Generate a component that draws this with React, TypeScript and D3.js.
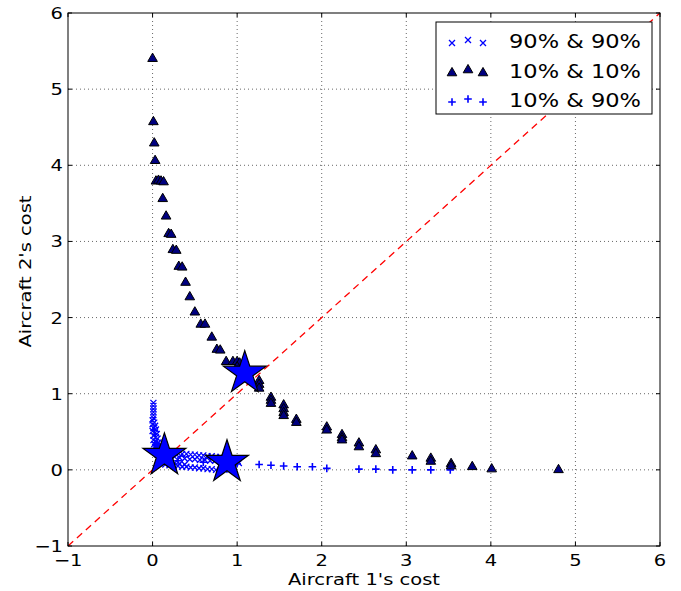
import React from "react";
import * as d3 from "d3";

// 90% & 90% (x markers)
const highHigh: [number, number][] = [
  // upright branch near x = 0
  [0.01, 0.88], [0.01, 0.84], [0.01, 0.8], [0.01, 0.76], [0.01, 0.72], [0.01, 0.68],
  [0.0, 0.65], [0.02, 0.62], [0.0, 0.6], [0.03, 0.58], [0.01, 0.55], [0.04, 0.53],
  [0.0, 0.51], [0.03, 0.49], [0.05, 0.47], [0.01, 0.45], [0.04, 0.43], [0.06, 0.41],
  [0.01, 0.39], [0.04, 0.37], [0.07, 0.36], [0.02, 0.34], [0.05, 0.33], [0.08, 0.32],
  [0.03, 0.3], [0.06, 0.29], [0.1, 0.28], [0.05, 0.26], [0.09, 0.26], [0.13, 0.25],
  // upper row of the knee
  [0.17, 0.24], [0.21, 0.23], [0.25, 0.22], [0.3, 0.22], [0.35, 0.21], [0.4, 0.21],
  [0.45, 0.2], [0.5, 0.2], [0.55, 0.19], [0.6, 0.19], [0.65, 0.18], [0.7, 0.18],
  [0.75, 0.17], [0.8, 0.17], [0.85, 0.16], [0.9, 0.16], [0.95, 0.15], [1.0, 0.14],
  [0.2, 0.19], [0.26, 0.17], [0.32, 0.16], [0.38, 0.15], [0.44, 0.14], [0.5, 0.14],
  [0.56, 0.13], [0.62, 0.13], [0.68, 0.12], [0.74, 0.12], [0.8, 0.11], [0.86, 0.11],
  [0.92, 0.1], [0.98, 0.1], [1.02, 0.09],
  // lower row
  [0.06, 0.2], [0.08, 0.15], [0.11, 0.1], [0.15, 0.07], [0.2, 0.06], [0.25, 0.05],
  [0.3, 0.05], [0.35, 0.04], [0.4, 0.04], [0.45, 0.03], [0.5, 0.03], [0.55, 0.02],
  [0.6, 0.02], [0.65, 0.01], [0.7, 0.01], [0.75, 0.0], [0.8, 0.0], [0.85, 0.0],
  [0.14, 0.12], [0.2, 0.1], [0.26, 0.09], [0.32, 0.08], [0.38, 0.07], [0.9, 0.02],
];

// 10% & 10% (triangles)
const lowLow: [number, number][] = [
  [0.0, 5.4], [0.01, 4.57], [0.02, 4.29], [0.03, 4.06], [0.04, 3.79], [0.07, 3.8],
  [0.1, 3.79], [0.13, 3.78], [0.12, 3.56], [0.16, 3.33], [0.19, 3.1], [0.22, 3.09],
  [0.24, 2.89], [0.28, 2.88], [0.31, 2.67], [0.35, 2.66], [0.39, 2.46], [0.44, 2.27],
  [0.5, 2.07], [0.57, 1.91], [0.62, 1.91], [0.7, 1.74], [0.76, 1.58], [0.8, 1.57],
  [0.87, 1.42], [0.95, 1.42], [1.0, 1.42], [1.03, 1.4], [1.0, 1.35], [1.05, 1.32],
  [1.26, 1.17], [1.26, 1.12], [1.26, 1.07], [1.4, 0.95], [1.4, 0.91], [1.4, 0.87],
  [1.55, 0.85], [1.55, 0.8], [1.55, 0.75], [1.55, 0.71], [1.7, 0.66], [1.7, 0.62],
  [2.06, 0.56], [2.06, 0.52], [2.24, 0.46], [2.24, 0.42], [2.24, 0.39], [2.44, 0.35],
  [2.44, 0.3], [2.64, 0.26], [2.64, 0.21], [3.07, 0.18], [3.29, 0.15], [3.29, 0.11],
  [3.53, 0.08], [3.53, 0.05], [3.78, 0.04], [4.01, 0.01], [4.8, 0.0],
];

// 10% & 90% (plus markers)
const lowHigh: [number, number][] = [
  [0.02, 0.28], [0.06, 0.2], [0.15, 0.15], [0.3, 0.12], [0.6, 0.1], [0.92, 0.09],
  [1.0, 0.08], [1.26, 0.07], [1.4, 0.06], [1.55, 0.05], [1.71, 0.04], [1.89, 0.04],
  [2.06, 0.02], [2.44, 0.01], [2.64, 0.01], [2.84, 0.0], [3.07, 0.0], [3.29, 0.0],
  [3.52, 0.0],
];

// equilibrium stars
const stars: [number, number][] = [
  [1.09, 1.27], [0.14, 0.19], [0.88, 0.1],
];

const ticks = [-1, 0, 1, 2, 3, 4, 5, 6];
const legendLabels = ["90% & 90%", "10% & 10%", "10% & 90%"];

const W = 681;
const H = 591;
const left = 68, right = 660, top = 13, bottom = 546;
const font = "DejaVu Sans, sans-serif";

const fmt = (t: number) => (t < 0 ? "\u2212" + Math.abs(t) : String(t));

export default function App() {
  const x = d3.scaleLinear().domain([-1, 6]).range([left, right]);
  const y = d3.scaleLinear().domain([-1, 6]).range([bottom, top]);

  const tri = d3.symbol().type(d3.symbolTriangle).size(40)() as string;
  const star = d3.symbol().type(d3.symbolStar).size(570)() as string;

  const xMark = (cx: number, cy: number, k = 3) =>
    `M${cx - k},${cy - k}L${cx + k},${cy + k}M${cx - k},${cy + k}L${cx + k},${cy - k}`;
  const plusMark = (cx: number, cy: number, k = 3.8) =>
    `M${cx - k},${cy}L${cx + k},${cy}M${cx},${cy - k}L${cx},${cy + k}`;

  const legendX = 436, legendY = 22, legendW = 216, legendH = 92;
  const rowY = [42, 72, 101];
  const mx = [452, 468, 483];
  const my = [1, -2, 1];

  return (
    <svg width={W} height={H} style={{ position: "absolute", left: 0, top: 0 }}>
      <rect x={0} y={0} width={W} height={H} fill="#fff" />
      {/* grid */}
      {ticks.slice(1, -1).map((t) => (
        <g key={"g" + t}>
          <line x1={x(t)} x2={x(t)} y1={top} y2={bottom} stroke="#000" strokeWidth={0.6} strokeDasharray="1,3" />
          <line x1={left} x2={right} y1={y(t)} y2={y(t)} stroke="#000" strokeWidth={0.6} strokeDasharray="1,3" />
        </g>
      ))}
      {/* diagonal */}
      <line x1={x(-1)} y1={y(-1)} x2={x(6)} y2={y(6)} stroke="#ff0000" strokeWidth={1.3} strokeDasharray="7,5" />

      {/* 10% & 90% */}
      <path
        d={lowHigh.map(([a, b]) => plusMark(x(a), y(b))).join("")}
        stroke="#0000ff" strokeWidth={1.6} fill="none"
      />
      {/* 90% & 90% */}
      <path
        d={highHigh.map(([a, b]) => xMark(x(a), y(b))).join("")}
        stroke="#0000ff" strokeWidth={1.3} fill="none"
      />
      {/* 10% & 10% */}
      {lowLow.map(([a, b], i) => (
        <path key={"t" + i} d={tri} transform={`translate(${x(a)},${y(b)})`}
          fill="#000080" stroke="#000" strokeWidth={1} />
      ))}
      {/* stars */}
      {stars.map(([a, b], i) => (
        <path key={"s" + i} d={star} transform={`translate(${x(a)},${y(b)})`}
          fill="#0000ff" stroke="#000" strokeWidth={1.2} />
      ))}

      {/* frame */}
      <rect x={left} y={top} width={right - left} height={bottom - top} fill="none" stroke="#000" strokeWidth={1} />
      {/* ticks */}
      {ticks.map((t) => (
        <g key={"k" + t}>
          <line x1={x(t)} x2={x(t)} y1={bottom} y2={bottom - 4} stroke="#000" />
          <line x1={x(t)} x2={x(t)} y1={top} y2={top + 4} stroke="#000" />
          <line x1={left} x2={left + 4} y1={y(t)} y2={y(t)} stroke="#000" />
          <line x1={right} x2={right - 4} y1={y(t)} y2={y(t)} stroke="#000" />
          <g transform={`translate(${x(t)},${bottom + 20}) scale(1.22,1)`}>
            <text textAnchor="middle" fontFamily={font} fontSize={16} fill="#000">{fmt(t)}</text>
          </g>
          <g transform={`translate(${left - 5},${y(t) + 6}) scale(1.22,1)`}>
            <text textAnchor="end" fontFamily={font} fontSize={16} fill="#000">{fmt(t)}</text>
          </g>
        </g>
      ))}
      <text x={(left + right) / 2} y={585} textAnchor="middle" fontFamily={font} fontSize={16.5}
        textLength={152} lengthAdjust="spacingAndGlyphs" fill="#000">
        Aircraft 1's cost
      </text>
      <text transform={`translate(31,${(top + bottom) / 2 - 8}) rotate(-90)`} x={0} y={0} textAnchor="middle"
        fontFamily={font} fontSize={16.5} textLength={152} lengthAdjust="spacingAndGlyphs" fill="#000">
        Aircraft 2's cost
      </text>

      {/* legend */}
      <rect x={legendX} y={legendY} width={legendW} height={legendH} fill="#fff" stroke="#000" strokeWidth={1} />
      {legendLabels.map((lab, i) => (
        <g key={"l" + i}>
          {mx.map((cx, j) => {
            const cy = rowY[i] + my[j];
            if (i === 0) return <path key={j} d={xMark(cx, cy)} stroke="#0000ff" strokeWidth={1.3} fill="none" />;
            if (i === 1) return <path key={j} d={tri} transform={`translate(${cx},${cy})`} fill="#000080" stroke="#000" />;
            return <path key={j} d={plusMark(cx, cy)} stroke="#0000ff" strokeWidth={1.6} fill="none" />;
          })}
          <text x={509} y={rowY[i] + 6} fontFamily={font} fontSize={19.5} textLength={132}
            lengthAdjust="spacingAndGlyphs" fill="#000">{lab}</text>
        </g>
      ))}
    </svg>
  );
}
